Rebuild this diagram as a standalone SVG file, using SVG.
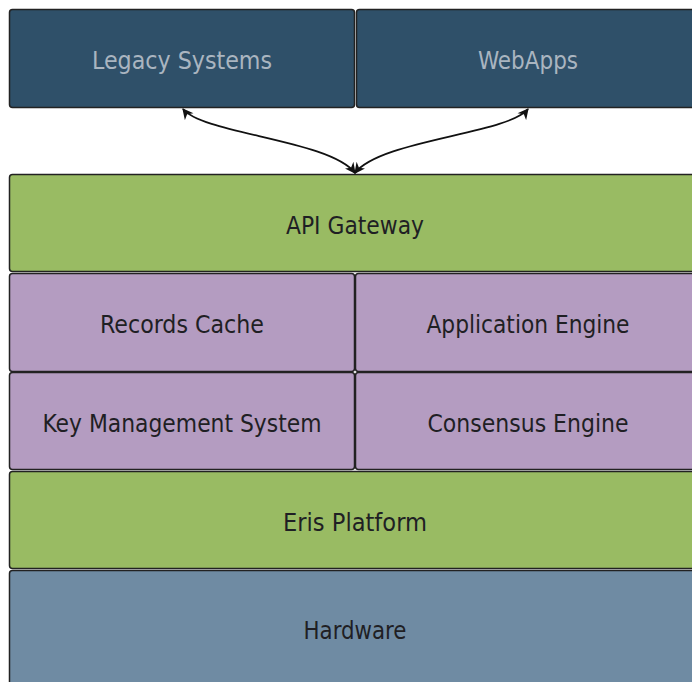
<svg xmlns="http://www.w3.org/2000/svg" width="692" height="682" viewBox="0 0 692 682">
  <defs>
    <marker id="arrow" viewBox="0 0 10 10" refX="9" refY="5" markerWidth="12" markerHeight="11" orient="auto-start-reverse" markerUnits="userSpaceOnUse">
      <path d="M0,0 L10,5 L0,10 L3,5 z" fill="#111"/>
    </marker>
  </defs>
  <style>
    .box { stroke: #222; stroke-width: 1.5; }
    .dark { fill: #2f5069; }
    .green { fill: #99bb63; }
    .purple { fill: #b49cc1; }
    .hw { fill: #6f8ba3; }
    text { font-family: "DejaVu Sans Condensed", "Roboto", sans-serif; font-size: 24px; text-anchor: middle; }
    .light { fill: #aab5c0; }
    .ink { fill: #1f1f24; }
    .conn { fill: none; stroke: #111; stroke-width: 1.8; marker-start: url(#arrow); marker-end: url(#arrow); }
  </style>
  <rect width="692" height="682" fill="#ffffff"/>

  <g id="legacy-systems">
    <rect class="box dark" x="9.5" y="9.5" width="345" height="98" rx="3"/>
    <text class="light" x="182" y="69" textLength="180" lengthAdjust="spacingAndGlyphs">Legacy Systems</text>
  </g>
  <g id="webapps">
    <rect class="box dark" x="356.5" y="9.5" width="345" height="98" rx="3"/>
    <text class="light" x="528" y="69" textLength="100" lengthAdjust="spacingAndGlyphs">WebApps</text>
  </g>

  <g id="api-gateway">
    <rect class="box green" x="9.5" y="174.5" width="692" height="97" rx="3"/>
    <text class="ink" x="355" y="234" textLength="138" lengthAdjust="spacingAndGlyphs">API Gateway</text>
  </g>
  <g id="records-cache">
    <rect class="box purple" x="9.5" y="273.5" width="345" height="98" rx="3"/>
    <text class="ink" x="182" y="333" textLength="164" lengthAdjust="spacingAndGlyphs">Records Cache</text>
  </g>
  <g id="application-engine">
    <rect class="box purple" x="355.5" y="273.5" width="346" height="98" rx="3"/>
    <text class="ink" x="528" y="333" textLength="203" lengthAdjust="spacingAndGlyphs">Application Engine</text>
  </g>
  <g id="key-management-system">
    <rect class="box purple" x="9.5" y="372.5" width="345" height="97" rx="3"/>
    <text class="ink" x="182" y="432" textLength="279" lengthAdjust="spacingAndGlyphs">Key Management System</text>
  </g>
  <g id="consensus-engine">
    <rect class="box purple" x="355.5" y="372.5" width="346" height="97" rx="3"/>
    <text class="ink" x="528" y="432" textLength="201" lengthAdjust="spacingAndGlyphs">Consensus Engine</text>
  </g>
  <g id="eris-platform">
    <rect class="box green" x="9.5" y="471.5" width="692" height="97" rx="3"/>
    <text class="ink" x="355" y="531" textLength="144" lengthAdjust="spacingAndGlyphs">Eris Platform</text>
  </g>
  <g id="hardware">
    <rect class="box hw" x="9.5" y="570.5" width="692" height="130" rx="3"/>
    <text class="ink" x="355" y="639" textLength="103" lengthAdjust="spacingAndGlyphs">Hardware</text>
  </g>

  <g id="connectors">
    <path class="conn" d="M183,109 C203,134 330,140 355,173"/>
    <path class="conn" d="M528,109 C508,134 380,140 355,173"/>
  </g>
</svg>
